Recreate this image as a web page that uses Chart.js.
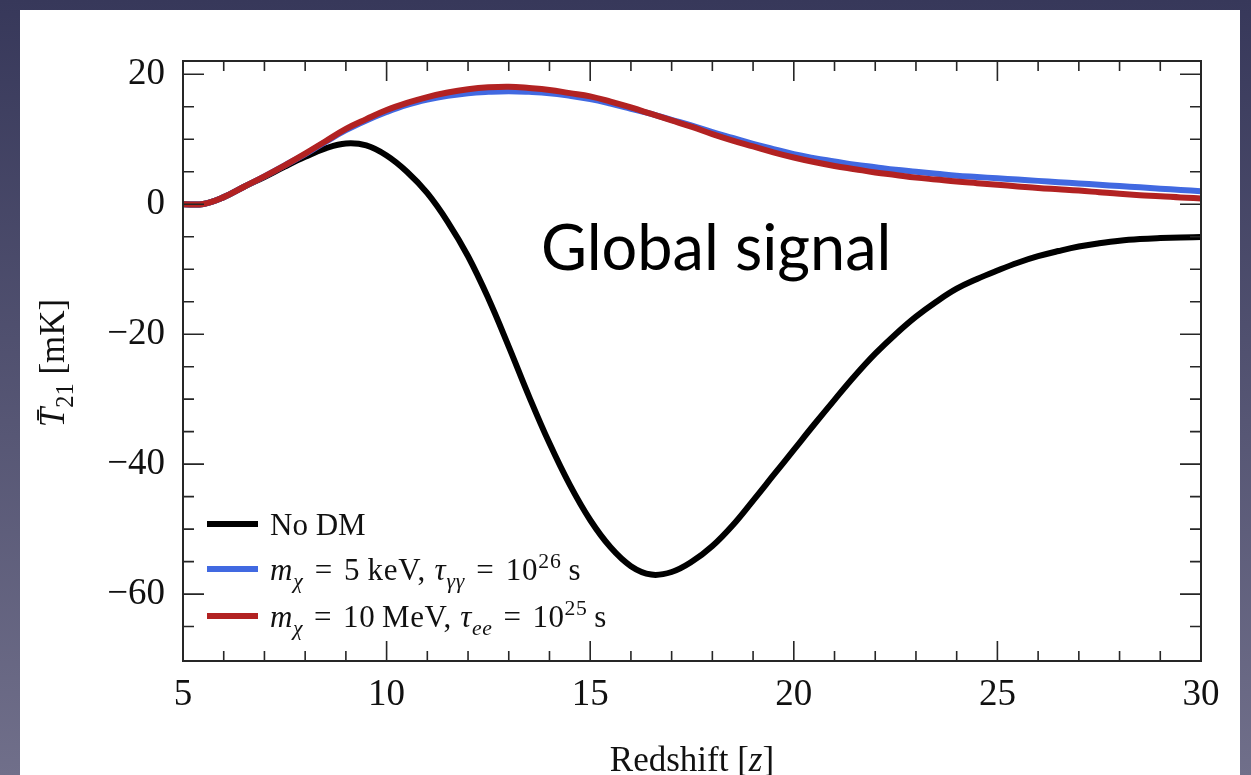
<!DOCTYPE html>
<html>
<head>
<meta charset="utf-8">
<script src="https://cdn.jsdelivr.net/npm/chart.js@4.4.0/dist/chart.umd.min.js"></script>
<style>
    html, body {
        margin: 0;
        padding: 0;
        width: 1251px;
        height: 775px;
        overflow: hidden;
        background: linear-gradient(#37385a, #706f8a);
    }
    #panel {
        position: absolute;
        left: 20px;
        top: 10px;
        width: 1220px;
        height: 765px;
        background: #ffffff;
    }
    #wrap {
        position: absolute;
        left: 0;
        top: 0;
        width: 1251px;
        height: 775px;
    }
</style>
</head>
<body>
<div id="panel"></div>
<div id="wrap"><canvas id="chart"></canvas></div>
<script>
// Redshift grid (x) and the three global-signal curves, in mK
const redshift = [5, 5.5, 6, 6.5, 7, 7.5, 8, 8.5, 9, 9.5, 10, 10.5, 11, 11.5, 12, 12.5, 13, 13.5, 14, 14.5,
    15, 15.5, 16, 16.5, 17, 17.5, 18, 18.5, 19, 19.5, 20, 20.5, 21, 21.5, 22, 22.5, 23, 23.5, 24, 24.5,
    25, 25.5, 26, 26.5, 27, 27.5, 28, 28.5, 29, 29.5, 30];

const noDM = [0, 0.05, 1.1, 2.7, 4.2, 5.8, 7.3, 8.6, 9.35, 9.05, 7.5, 5.0, 1.7, -2.7, -8.0, -14.5, -21.9, -29.6, -36.8, -43.2,
    -48.6, -52.8, -55.7, -57, -56.6, -55, -52.6, -49.4, -45.6, -41.7, -37.8, -33.9, -30.1, -26.4, -23, -20, -17.3, -15, -13, -11.5,
    -10.2, -9.0, -8.0, -7.2, -6.5, -6.0, -5.6, -5.35, -5.2, -5.1, -5.05];

const keV5 = [0, 0.05, 1.1, 2.7, 4.3, 6.0, 7.7, 9.6, 11.4, 12.9, 14.2, 15.3, 16.1, 16.7, 17.1, 17.3, 17.4, 17.3, 17.1, 16.7,
    16.2, 15.5, 14.7, 13.9, 13.0, 12.1, 11.1, 10.2, 9.3, 8.5, 7.7, 7.1, 6.6, 6.1, 5.7, 5.3, 5.0, 4.7, 4.4, 4.2,
    4.0, 3.8, 3.6, 3.4, 3.2, 3.0, 2.8, 2.6, 2.4, 2.2, 2.0];

const MeV10 = [0, 0.05, 1.1, 2.7, 4.3, 6.0, 7.8, 9.7, 11.6, 13.1, 14.5, 15.6, 16.5, 17.2, 17.7, 18.0, 18.1, 17.9, 17.6, 17.1,
    16.6, 15.8, 14.9, 13.9, 12.9, 11.9, 10.8, 9.8, 8.9, 8.0, 7.2, 6.5, 5.9, 5.4, 4.9, 4.5, 4.1, 3.8, 3.5, 3.25,
    3.0, 2.75, 2.5, 2.3, 2.1, 1.85, 1.6, 1.4, 1.25, 1.05, 0.9];

const xTicks = [5, 10, 15, 20, 25, 30];
const yTicks = [-60, -40, -20, 0, 20];

// legend text pieces: [text, style]
const legendNoDM = [['No DM', 'r']];
const legendKeV = [['m', 'i'], ['\u03c7', 'isub'], ['\u2004=\u20045\u2009keV, ', 'r'], ['\u03c4', 'i'], ['\u03b3\u03b3', 'isub'],
    ['\u2004=\u200410', 'r'], ['26', 'sup'], ['\u2009s', 'r']];
const legendMeV = [['m', 'i'], ['\u03c7', 'isub'], ['\u2004=\u200410\u2009MeV, ', 'r'], ['\u03c4', 'i'], ['ee', 'isub'],
    ['\u2004=\u200410', 'r'], ['25', 'sup'], ['\u2009s', 'r']];

const SERIF = "'Liberation Serif', 'DejaVu Serif', serif";
const COLORS = { noDM: '#000000', keV: '#4169e1', MeV: '#b22222', axis: '#262626' };

function fontFor(style, size) {
    const small = style === 'sub' || style === 'isub' || style === 'sup';
    const italic = style === 'i' || style === 'isub';
    const px = small ? size * 0.7 : size;
    return (italic ? 'italic ' : '') + px + 'px ' + SERIF;
}

function richWidth(ctx, parts, size) {
    return parts.reduce((w, [text, style]) => {
        ctx.font = fontFor(style, size);
        return w + ctx.measureText(text).width;
    }, 0);
}

// draws mixed roman / italic / sub / sup text starting at x on baseline y
function drawRich(ctx, parts, x, y, size) {
    ctx.textAlign = 'left';
    ctx.textBaseline = 'alphabetic';
    parts.forEach(([text, style]) => {
        ctx.font = fontFor(style, size);
        let dy = 0;
        if (style === 'sub' || style === 'isub') dy = size * 0.25;
        if (style === 'sup') dy = -size * 0.4;
        ctx.fillText(text, x, y + dy);
        x += ctx.measureText(text).width;
    });
}

const frameAndTicks = {
    id: 'frameAndTicks',
    afterDraw(chart) {
        const { ctx, chartArea: a, scales } = chart;
        const xs = scales.x, ys = scales.y;
        ctx.save();
        ctx.strokeStyle = COLORS.axis;
        ctx.lineWidth = 1.6;
        for (let z = 5; z <= 30; z++) {
            const px = xs.getPixelForValue(z);
            const len = z % 5 === 0 ? 20 : 10;
            ctx.beginPath();
            ctx.moveTo(px, a.bottom); ctx.lineTo(px, a.bottom - len);
            ctx.moveTo(px, a.top); ctx.lineTo(px, a.top + len);
            ctx.stroke();
        }
        for (let v = -65; v <= 20; v += 5) {
            const py = ys.getPixelForValue(v);
            const len = v % 20 === 0 ? 21 : 11;
            ctx.beginPath();
            ctx.moveTo(a.left, py); ctx.lineTo(a.left + len, py);
            ctx.moveTo(a.right, py); ctx.lineTo(a.right - len, py);
            ctx.stroke();
        }
        ctx.lineWidth = 2;
        ctx.strokeRect(a.left, a.top, a.right - a.left, a.bottom - a.top);
        ctx.restore();
    }
};

const annotations = {
    id: 'annotations',
    afterDraw(chart) {
        const { ctx, chartArea: a } = chart;
        ctx.save();
        ctx.fillStyle = '#111111';

        // legend, lower left inside the axes
        const rows = [
            [legendNoDM, COLORS.noDM, 0],
            [legendKeV, COLORS.keV, 0.8],
            [legendMeV, COLORS.MeV, 0.6],
        ];
        const rowY = [524, 569, 616];
        rows.forEach(([parts, color, spacing], i) => {
            ctx.strokeStyle = color;
            ctx.lineWidth = 6;
            ctx.beginPath();
            ctx.moveTo(207, rowY[i]);
            ctx.lineTo(258, rowY[i]);
            ctx.stroke();
            ctx.letterSpacing = spacing + 'px';
            drawRich(ctx, parts, 270, rowY[i] + 11, 31);
            ctx.letterSpacing = '0px';
        });

        // axis titles
        const xTitle = [['Redshift [', 'r'], ['z', 'i'], [']', 'r']];
        const xw = richWidth(ctx, xTitle, 35);
        drawRich(ctx, xTitle, (a.left + a.right) / 2 - xw / 2, 771, 35);

        const yTitle = [['T\u0304', 'i'], ['21', 'sub'], [' [mK]', 'r']];
        const yw = richWidth(ctx, yTitle, 35);
        ctx.translate(64, (a.top + a.bottom) / 2 + 2);
        ctx.rotate(-Math.PI / 2);
        drawRich(ctx, yTitle, -yw / 2, 0, 35);
        ctx.restore();

        // slide caption
        ctx.save();
        ctx.fillStyle = '#000000';
        ctx.font = "63px Lato, 'Open Sans', sans-serif";
        ctx.textBaseline = 'alphabetic';
        ctx.fillText('Global signal', 541, 270);
        ctx.restore();
    }
};

const points = (ys) => redshift.map((z, i) => ({ x: z, y: ys[i] }));

new Chart(document.getElementById('chart'), {
    type: 'line',
    data: {
        datasets: [
            { label: 'No DM', data: points(noDM), borderColor: COLORS.noDM, order: 3 },
            { label: 'm_chi = 5 keV, tau_gg = 1e26 s', data: points(keV5), borderColor: COLORS.keV, order: 2 },
            { label: 'm_chi = 10 MeV, tau_ee = 1e25 s', data: points(MeV10), borderColor: COLORS.MeV, order: 1 },
        ],
    },
    options: {
        responsive: true,
        maintainAspectRatio: false,
        animation: false,
        datasets: {
            line: {
                borderWidth: 6,
                pointRadius: 0,
                tension: 0.4,
                borderJoinStyle: 'round',
                fill: false,
            },
        },
        layout: { padding: { top: 61, right: 50, left: 0, bottom: 0 } },
        plugins: {
            legend: { display: false },
            tooltip: { enabled: false },
        },
        scales: {
            x: {
                type: 'linear',
                min: 5,
                max: 30,
                afterBuildTicks: (s) => { s.ticks = xTicks.map((v) => ({ value: v })); },
                afterFit: (s) => { s.height = 114; },
                grid: { display: false, drawTicks: false },
                border: { display: false },
                ticks: {
                    font: { family: SERIF, size: 37 },
                    color: '#111111',
                    padding: 12,
                    maxRotation: 0,
                    autoSkip: false,
                },
            },
            y: {
                min: -70.3,
                max: 22.05,
                afterBuildTicks: (s) => { s.ticks = yTicks.map((v) => ({ value: v })); },
                afterFit: (s) => { s.width = 183; },
                grid: { display: false, drawTicks: false },
                border: { display: false },
                ticks: {
                    font: { family: SERIF, size: 37 },
                    color: '#111111',
                    padding: 18,
                    callback: (v) => (v < 0 ? '\u2212' + Math.abs(v) : String(v)),
                },
            },
        },
    },
    plugins: [frameAndTicks, annotations],
});
</script>
</body>
</html>
